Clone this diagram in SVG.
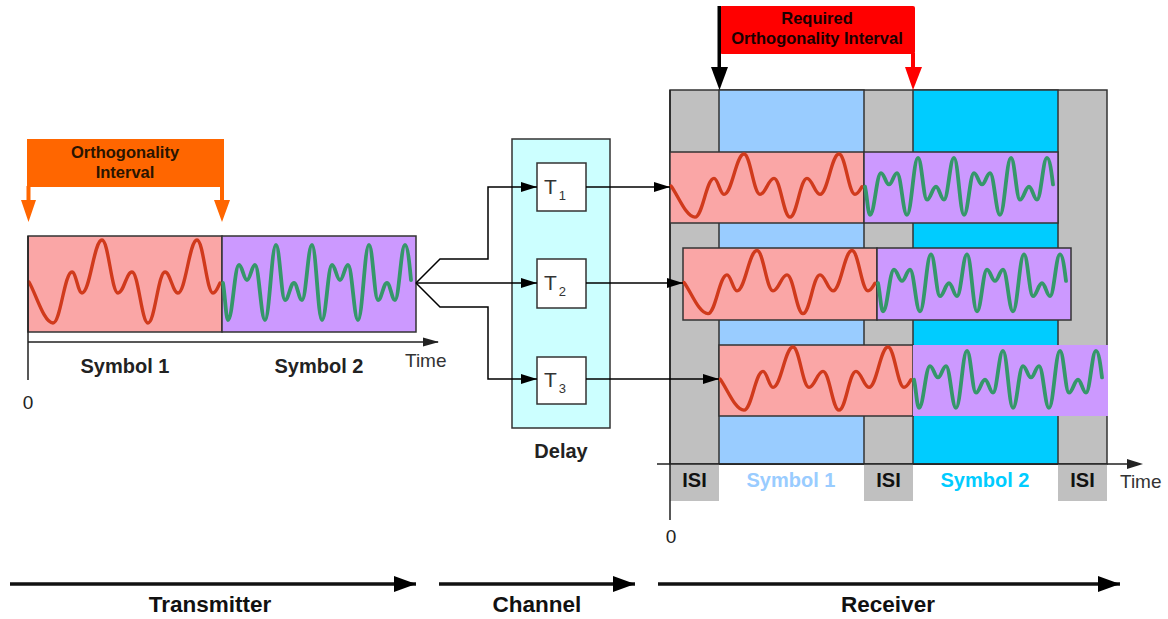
<svg xmlns="http://www.w3.org/2000/svg" xmlns:xlink="http://www.w3.org/1999/xlink" width="1168" height="619" viewBox="0 0 1168 619">
<style>
text{font-family:"Liberation Sans",Arial,sans-serif}
.b{font-weight:bold}
.box{stroke:#333;stroke-width:1.5}
.pink{fill:#faa6a6}
.purp{fill:#cc99ff}
.gray{fill:#c0c0c0}
.red{fill:none;stroke:#d03a1c;stroke-width:3.4;stroke-linecap:round;stroke-linejoin:round;vector-effect:non-scaling-stroke}
.grn{fill:none;stroke:#35976a;stroke-width:3.8;stroke-linecap:round;stroke-linejoin:round;vector-effect:non-scaling-stroke}
.con{fill:none;stroke:#000;stroke-width:1.5}
.ax{fill:none;stroke:#222;stroke-width:1.5}
.big{fill:none;stroke:#111;stroke-width:3.5}
</style>
<defs>
<marker id="ah" viewBox="0 0 16 10" refX="16" refY="5" markerWidth="16" markerHeight="10" markerUnits="userSpaceOnUse" orient="auto"><path d="M0,0 L16,5 L0,10 Z" fill="#000"/></marker>
<marker id="bh" viewBox="0 0 22 16" refX="22" refY="8" markerWidth="22" markerHeight="16" markerUnits="userSpaceOnUse" orient="auto"><path d="M0,0 L22,8 L0,16 Z" fill="#000"/></marker>
<path id="wr" class="red" d="M1,-2 C8,10 16,39 25,39 C32.6,39 36.4,-12 44,-12 C48,-12 50,9 54,9 C62,9 66,-44 74,-44 C80.4,-44 83.6,9 90,9 C95.6,9 98.4,-12 104,-12 C110.4,-12 113.6,39 120,39 C126.8,39 130.2,-12 137,-12 C142.2,-12 144.8,9 150,9 C157.6,9 161.4,-44 169,-44 C175.4,-44 178.6,9 185,9 C188,9 190,3 192,-1"/>
<path id="wg" class="grn" d="M1,-1 C3,10 4,36 6,36 C10.4,36 12.6,-19 17,-19 C20.2,-19 21.8,-4 25,-4 C28.2,-4 29.8,-19 33,-19 C37,-19 39,36 43,36 C47.4,36 49.6,-39 54,-39 C57.6,-39 59.4,16 63,16 C66.6,16 68.4,-1 72,-1 C75.2,-1 76.8,16 80,16 C84,16 86,-39 90,-39 C94,-39 96,36 100,36 C104,36 106,-19 110,-19 C113.2,-19 114.8,-4 118,-4 C121.2,-4 122.8,-19 126,-19 C130,-19 132,36 136,36 C140.4,36 142.6,-39 147,-39 C150.6,-39 152.4,16 156,16 C159.6,16 161.4,-1 165,-1 C168.2,-1 169.8,16 173,16 C177,16 179,-39 183,-39 C186,-39 188,-14 189,-4"/>
</defs>
<rect width="1168" height="619" fill="#fff"/>

<!-- Transmitter -->
<g id="orth-interval">
<rect x="27" y="139" width="197" height="48" fill="#ff6600"/>
<rect x="26.5" y="186" width="4" height="15" fill="#ff6600"/>
<rect x="220" y="186" width="4" height="15" fill="#ff6600"/>
<path d="M21,200 L36,200 L28.5,222 Z M214,200 L230,200 L222,222 Z" fill="#ff6600"/>
<text x="125" y="158" text-anchor="middle" font-size="16.5" class="b" fill="#2a1400">Orthogonality</text>
<text x="125" y="178" text-anchor="middle" font-size="16.5" class="b" fill="#2a1400">Interval</text>
</g>
<g id="tx-signal">
<rect x="28" y="236" width="194" height="96" class="box pink"/>
<rect x="222" y="236" width="194" height="96" class="box purp"/>
<use xlink:href="#wr" transform="translate(28,284)"/>
<use xlink:href="#wg" transform="translate(222,284)"/>
</g>
<g id="tx-axis">
<path class="ax" d="M28,236 V380 M28,342 H438"/>
<path d="M423,337.5 L439,342 L423,346.5 Z" fill="#222"/>
<text x="405" y="367" font-size="19" fill="#333">Time</text>
<text x="28" y="409" font-size="19" text-anchor="middle" fill="#222">0</text>
<text x="125" y="373" font-size="20" class="b" text-anchor="middle" fill="#222">Symbol 1</text>
<text x="319" y="373" font-size="20" class="b" text-anchor="middle" fill="#222">Symbol 2</text>
</g>

<!-- Channel -->
<g id="delay">
<rect x="512" y="139" width="98" height="289" class="box" fill="#ccffff"/>
<text x="561" y="458" font-size="20" class="b" text-anchor="middle" fill="#222">Delay</text>
</g>
<g id="t1">
<rect x="537" y="163" width="49" height="48" class="box" fill="#fff"/>
<text x="544" y="194" font-size="21" fill="#333">T<tspan font-size="13" dx="2" dy="6">1</tspan></text>
</g>
<g id="t2">
<rect x="537" y="259" width="49" height="49" class="box" fill="#fff"/>
<text x="544" y="290" font-size="21" fill="#333">T<tspan font-size="13" dx="2" dy="6">2</tspan></text>
</g>
<g id="t3">
<rect x="537" y="357" width="49" height="47" class="box" fill="#fff"/>
<text x="544" y="387" font-size="21" fill="#333">T<tspan font-size="13" dx="2" dy="6">3</tspan></text>
</g>

<!-- Receiver -->
<g id="receiver">
<rect x="670" y="90" width="437" height="374" class="box gray"/>
<rect x="719" y="90" width="145" height="374" class="box" fill="#99ccff"/>
<rect x="913" y="90" width="145" height="374" class="box" fill="#00ccff"/>
<rect x="670" y="464" width="49" height="37" class="gray"/>
<rect x="864" y="464" width="49" height="37" class="gray"/>
<rect x="1058" y="464" width="49" height="37" class="gray"/>
<text x="694.5" y="487" font-size="20" class="b" text-anchor="middle" fill="#111">ISI</text>
<text x="888.5" y="487" font-size="20" class="b" text-anchor="middle" fill="#111">ISI</text>
<text x="1082.5" y="487" font-size="20" class="b" text-anchor="middle" fill="#111">ISI</text>
<text x="791" y="487" font-size="20" class="b" text-anchor="middle" fill="#99ccff">Symbol 1</text>
<text x="985" y="487" font-size="20" class="b" text-anchor="middle" fill="#00ccff">Symbol 2</text>
<path class="ax" d="M670,90 V520 M657,464 H1130"/>
<path d="M1127,459 L1143,464 L1127,469 Z" fill="#222"/>
<text x="1120" y="488" font-size="19" fill="#333">Time</text>
<text x="671" y="543" font-size="19" text-anchor="middle" fill="#222">0</text>
</g>
<g id="rx-path1">
<rect x="670" y="152" width="194" height="71" class="box pink"/>
<rect x="864" y="152" width="194" height="71" class="box purp"/>
<use xlink:href="#wr" transform="translate(670,187.5) scale(1,0.76)"/>
<use xlink:href="#wg" transform="translate(864,187.5) scale(1,0.76)"/>
</g>
<g id="rx-path2">
<rect x="683" y="248" width="194" height="72" class="box pink"/>
<rect x="877" y="248" width="194" height="72" class="box purp"/>
<use xlink:href="#wr" transform="translate(683,284) scale(1,0.76)"/>
<use xlink:href="#wg" transform="translate(877,284) scale(1,0.76)"/>
</g>
<g id="rx-path3">
<rect x="719" y="345" width="194" height="71" class="box pink"/>
<rect x="913" y="345" width="195" height="71" class="purp"/>
<use xlink:href="#wr" transform="translate(719,380.5) scale(1,0.76)"/>
<use xlink:href="#wg" transform="translate(913,380.5) scale(1,0.76)"/>
</g>
<g id="req-interval">
<rect x="720" y="6" width="195" height="48" rx="2" fill="#ff0000"/>
<rect x="717.5" y="6" width="3.5" height="62" fill="#000"/>
<path d="M711,67 L728,67 L719.5,90 Z" fill="#000"/>
<rect x="911" y="53" width="4" height="15" fill="#ff0000"/>
<path d="M905,67 L922,67 L913,90 Z" fill="#ff0000"/>
<text x="817" y="24" font-size="16.5" class="b" text-anchor="middle" fill="#1a0000">Required</text>
<text x="817" y="44" font-size="16.5" class="b" text-anchor="middle" fill="#1a0000">Orthogonality Interval</text>
</g>

<g id="connectors">
<path class="con" marker-end="url(#ah)" d="M416,283 L440,259 L488,259 L488,187 L537,187"/>
<path class="con" marker-end="url(#ah)" d="M416,283 L537,283"/>
<path class="con" marker-end="url(#ah)" d="M416,283 L440,307 L488,307 L488,379 L537,379"/>
<path class="con" marker-end="url(#ah)" d="M586,187 L670,187"/>
<path class="con" marker-end="url(#ah)" d="M586,283 L683,283"/>
<path class="con" marker-end="url(#ah)" d="M586,379 L719,379"/>
</g>

<g id="stages">
<path class="big" marker-end="url(#bh)" d="M10,584 H416"/>
<path class="big" marker-end="url(#bh)" d="M439,584 H635"/>
<path class="big" marker-end="url(#bh)" d="M658,584 H1120"/>
<text x="210" y="612" font-size="22.5" class="b" text-anchor="middle" fill="#111">Transmitter</text>
<text x="537" y="612" font-size="22.5" class="b" text-anchor="middle" fill="#111">Channel</text>
<text x="888" y="612" font-size="22.5" class="b" text-anchor="middle" fill="#111">Receiver</text>
</g>
</svg>
